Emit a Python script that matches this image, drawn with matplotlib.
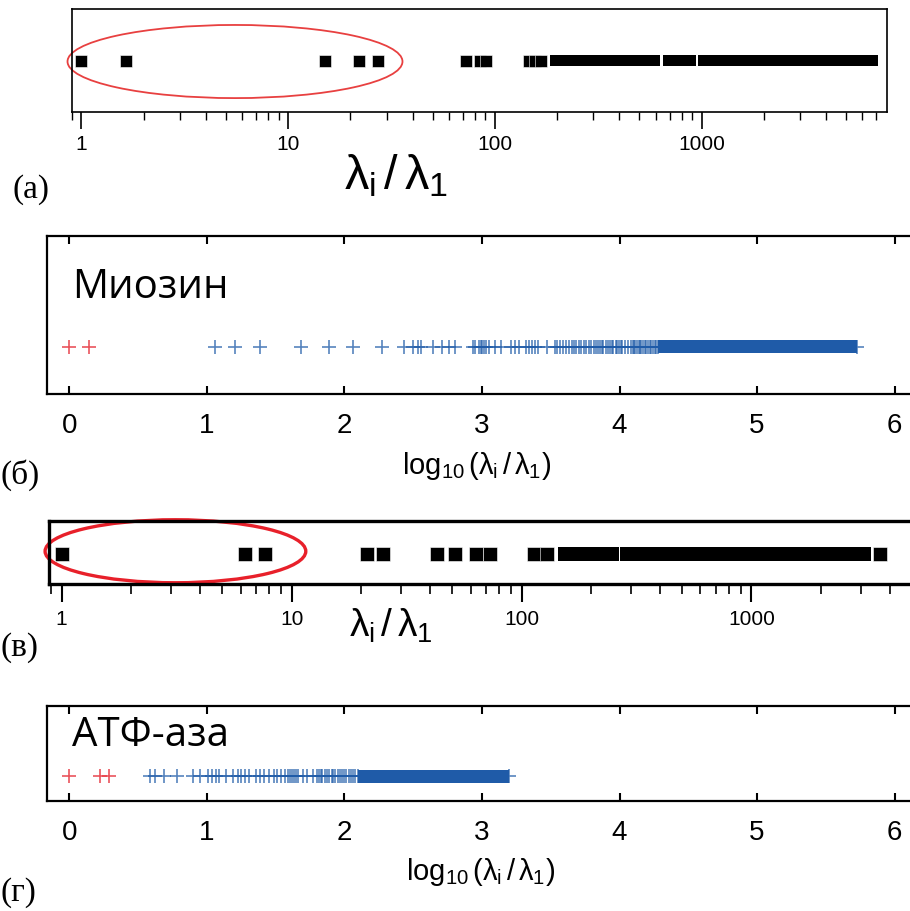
"""
Eigenvalue spectra lambda_i / lambda_1: four strip panels (a, б, в, г).
"""

import matplotlib.pyplot as plt
from matplotlib.patches import Ellipse
from matplotlib.ticker import NullFormatter

plt.rcParams['font.family'] = ['Liberation Sans', 'DejaVu Sans']
plt.rcParams['mathtext.fontset'] = 'custom'
plt.rcParams['mathtext.rm'] = 'Liberation Sans'
plt.rcParams['mathtext.it'] = 'Liberation Sans'
plt.rcParams['mathtext.bf'] = 'Liberation Sans:bold'

# (a) lambda_i / lambda_1, log axis: single squares + solid runs of squares
a_points = [1.0, 1.64, 15.0, 22.0, 27.2, 72.5, 85.0, 91.0, 146.0, 156.0, 167.0]
a_runs = [(185.0, 629.0), (650.0, 940.0), (962.0, 7140.0)]
a_ticks = [1, 10, 100, 1000]

# (б) myosin, log10(lambda_i / lambda_1)
b_red = [0.0, 0.142]
b_blue = [1.056, 1.206, 1.387, 1.688, 1.888, 2.065, 2.271, 2.433, 2.498, 2.535,
          2.559, 2.644, 2.707, 2.760, 2.801, 2.934, 2.953, 2.977, 2.990, 3.000,
          3.014, 3.030, 3.048, 3.092, 3.135, 3.208, 3.237, 3.268, 3.322, 3.341,
          3.365, 3.384, 3.411, 3.471, 3.529, 3.547, 3.565, 3.590, 3.609, 3.633,
          3.657, 3.669, 3.686, 3.705, 3.722, 3.739, 3.759, 3.776, 3.795, 3.812,
          3.831, 3.845, 3.858, 3.870, 3.880, 3.905, 3.918, 3.930, 3.942, 3.953,
          3.972, 3.985, 3.997, 4.010, 4.021, 4.038, 4.060, 4.080, 4.099, 4.103,
          4.115, 4.128, 4.140, 4.147, 4.159, 4.171, 4.183, 4.195, 4.208, 4.220,
          4.232, 4.245, 4.257, 4.268]
b_run = (4.28, 5.73)

# (в) lambda_i / lambda_1, log axis
v_points = [1.0, 6.3, 7.7, 21.3, 24.9, 42.9, 51.4, 63.4, 72.8, 113.0, 128.8, 3614.0]
v_runs = [(143.7, 264.4), (267.1, 3309.0)]
v_ticks = [1, 10, 100, 1000]

# (г) ATPase, log10(lambda_i / lambda_1)
g_red = [0.0, 0.225, 0.29]
g_blue = [0.587, 0.620, 0.690, 0.780, 0.900, 0.950, 1.010, 1.040, 1.070, 1.090,
          1.140, 1.190, 1.230, 1.250, 1.280, 1.310, 1.357, 1.385, 1.413, 1.450,
          1.490, 1.510, 1.540, 1.570, 1.590, 1.605, 1.620, 1.635, 1.650, 1.660,
          1.700, 1.730, 1.770, 1.800, 1.815, 1.830, 1.840, 1.860, 1.875, 1.890,
          1.910, 1.920, 1.935, 1.950, 1.970, 1.980, 1.995, 2.010, 2.030, 2.045,
          2.060, 2.080]
g_run = (2.10, 3.20)

lin_ticks = [0, 1, 2, 3, 4, 5, 6]

BLUE = '#1f5ba8'
RED = '#e8414a'
W, H = 910.0, 912.0

log_label = r'log$_{10}$$\,$($\lambda_\mathrm{i}\,$/$\,\lambda_1$)'
ratio_label = r'$\lambda_\mathrm{i}\,/\,\lambda_1$'


def box(l, t, r, b):
    # pixel box -> figure fraction
    return [l / W, 1 - b / H, (r - l) / W, (b - t) / H]


fig = plt.figure(figsize=(9.1, 9.12), dpi=100)

# ---------------- (a)
ax = fig.add_axes(box(72, 10, 887, 113))
ax.set_xscale('log')
ax.set_xlim(0.90, 7890)
ax.set_ylim(0, 1)
ya, ha = 0.5, 0.056
ax.plot(a_points, [ya] * len(a_points), 's', ms=8.8, color='k', mec='white', mew=0.4)
for lo, hi in a_runs:
    ax.fill_between([lo, hi], ya - ha, ya + ha, color='k', lw=0)
ax.set_yticks([])
ax.set_xticks(a_ticks)
ax.set_xticklabels([str(t) for t in a_ticks])
ax.xaxis.set_minor_formatter(NullFormatter())
ax.tick_params(axis='x', which='major', length=12, width=1.2, pad=4, labelsize=15)
ax.tick_params(axis='x', which='minor', length=6, width=1.0)
for s in ax.spines.values():
    s.set_linewidth(1.2)
ax.add_patch(Ellipse((0.2, 0.49), 0.411, 0.71, transform=ax.transAxes,
                     fill=False, ec='#e84040', lw=1.3, clip_on=False))
fig.text(396 / W, 1 - 176 / H, ratio_label, fontsize=35,
         ha='center', va='center')
fig.text(12 / W, 1 - 190 / H, '(a)', family='Liberation Serif', fontsize=24,
         ha='left', va='center')

# ---------------- (б)
ax = fig.add_axes(box(47, 237, 918, 395))
ax.set_xlim(-0.162, 6.17)
ax.set_ylim(0, 1)
yb, hb = 0.30, 0.041
ax.fill_between(b_run, yb - hb, yb + hb, color=BLUE, lw=0)
ax.plot(b_blue + list(b_run), [yb] * (len(b_blue) + 2), '+', ms=9.4, mew=1.2,
        color=BLUE, alpha=0.75)
ax.plot(b_red, [yb] * len(b_red), '+', ms=9.4, mew=1.2, color=RED, alpha=0.9)
ax.set_yticks([])
ax.set_xticks(lin_ticks)
ax.tick_params(axis='x', direction='in', top=True, length=6, width=1.5, pad=13,
               labelsize=20)
for s in ax.spines.values():
    s.set_linewidth(1.6)
fig.text(72 / W, 1 - 288 / H, 'Миозин', family=['Open Sans', 'DejaVu Sans'],
         fontsize=29, ha='left', va='center')
fig.text(477 / W, 1 - 466 / H, log_label, fontsize=21, ha='center', va='center')
fig.text(1 / W, 1 - 475 / H, '(б)', family='Liberation Serif', fontsize=24,
         ha='left', va='center')

# ---------------- (в)
ax = fig.add_axes(box(49, 522, 918, 585))
ax.set_xscale('log')
ax.set_xlim(0.881, 5300)
ax.set_ylim(0, 1)
yv, hv = 0.48, 0.11
ax.plot(v_points, [yv] * len(v_points), 's', ms=10, color='k', mec='white', mew=0.4)
for lo, hi in v_runs:
    ax.fill_between([lo, hi], yv - hv, yv + hv, color='k', lw=0)
ax.set_yticks([])
ax.set_xticks(v_ticks)
ax.set_xticklabels([str(t) for t in v_ticks])
ax.xaxis.set_minor_formatter(NullFormatter())
ax.tick_params(axis='x', which='major', length=13, width=1.5, pad=5, labelsize=15)
ax.tick_params(axis='x', which='minor', length=7, width=1.2)
for s in ax.spines.values():
    s.set_linewidth(2.4)
ax.add_patch(Ellipse((0.1455, 0.52), 0.30, 1.0, transform=ax.transAxes,
                     fill=False, ec='#e8202a', lw=2.4, clip_on=False))
fig.text(391 / W, 1 - 626 / H, ratio_label, fontsize=28,
         ha='center', va='center')
fig.text(1 / W, 1 - 648 / H, '(в)', family='Liberation Serif', fontsize=24,
         ha='left', va='center')

# ---------------- (г)
ax = fig.add_axes(box(47, 707, 918, 802))
ax.set_xlim(-0.162, 6.17)
ax.set_ylim(0, 1)
yg, hg = 0.26, 0.068
ax.fill_between(g_run, yg - hg, yg + hg, color=BLUE, lw=0)
ax.plot(g_blue + list(g_run), [yg] * (len(g_blue) + 2), '+', ms=9.4, mew=1.2,
        color=BLUE, alpha=0.75)
ax.plot(g_red, [yg] * len(g_red), '+', ms=9.4, mew=1.2, color=RED, alpha=0.9)
ax.set_yticks([])
ax.set_xticks(lin_ticks)
ax.tick_params(axis='x', direction='in', top=True, length=6, width=1.5, pad=13,
               labelsize=20)
for s in ax.spines.values():
    s.set_linewidth(1.6)
fig.text(72 / W, 1 - 736 / H, 'АТФ-аза', family=['Open Sans', 'DejaVu Sans'],
         fontsize=29, ha='left', va='center')
fig.text(481 / W, 1 - 872 / H, log_label, fontsize=21, ha='center', va='center')
fig.text(1 / W, 1 - 893 / H, '(г)', family='Liberation Serif', fontsize=24,
         ha='left', va='center')

fig.savefig('out.png', dpi=100)
